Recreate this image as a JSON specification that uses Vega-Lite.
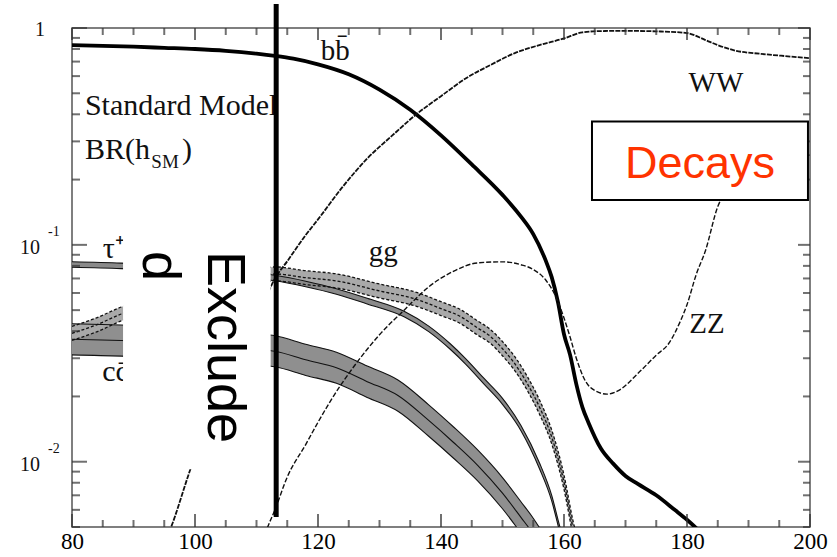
{
  "$schema": "https://vega.github.io/schema/vega-lite/v6.json",
  "width": 738,
  "height": 499,
  "autosize": "none",
  "padding": {"left": 72, "top": 28, "right": 27, "bottom": 30},
  "background": "white",
  "config": {
    "view": {"stroke": "#555", "strokeWidth": 1.5}
  },
  "datasets": {
    "bb": [
      {"m": 80, "v": 0.834}, {"m": 85, "v": 0.828}, {"m": 90, "v": 0.82}, {"m": 95, "v": 0.81},
      {"m": 100, "v": 0.8}, {"m": 105, "v": 0.785}, {"m": 110, "v": 0.762}, {"m": 113, "v": 0.744},
      {"m": 116, "v": 0.722}, {"m": 120, "v": 0.68}, {"m": 125, "v": 0.612}, {"m": 130, "v": 0.52},
      {"m": 135, "v": 0.42}, {"m": 140, "v": 0.32}, {"m": 145, "v": 0.235}, {"m": 150, "v": 0.17},
      {"m": 153, "v": 0.135}, {"m": 155, "v": 0.112}, {"m": 157, "v": 0.085}, {"m": 158, "v": 0.071},
      {"m": 159, "v": 0.0547}, {"m": 160, "v": 0.0387}, {"m": 161, "v": 0.031}, {"m": 162, "v": 0.0228},
      {"m": 163, "v": 0.0178}, {"m": 164, "v": 0.0151}, {"m": 166, "v": 0.0115}, {"m": 168, "v": 0.0098},
      {"m": 170, "v": 0.0086}, {"m": 172, "v": 0.0079}, {"m": 175, "v": 0.007}, {"m": 178, "v": 0.006},
      {"m": 180, "v": 0.0054}, {"m": 182, "v": 0.0048}, {"m": 184, "v": 0.0043}
    ],
    "ww": [
      {"m": 95, "v": 0.0042}, {"m": 96, "v": 0.0049}, {"m": 99, "v": 0.0088}, {"m": 102, "v": 0.0155},
      {"m": 105, "v": 0.025}, {"m": 108, "v": 0.037}, {"m": 111, "v": 0.053}, {"m": 113, "v": 0.07},
      {"m": 115, "v": 0.084}, {"m": 118, "v": 0.111}, {"m": 120, "v": 0.131}, {"m": 124, "v": 0.185},
      {"m": 128, "v": 0.25}, {"m": 132, "v": 0.318}, {"m": 136, "v": 0.4}, {"m": 140, "v": 0.485},
      {"m": 144, "v": 0.585}, {"m": 148, "v": 0.674}, {"m": 152, "v": 0.766}, {"m": 156, "v": 0.834},
      {"m": 160, "v": 0.895}, {"m": 163, "v": 0.955}, {"m": 166, "v": 0.968}, {"m": 170, "v": 0.97},
      {"m": 175, "v": 0.965}, {"m": 180, "v": 0.948}, {"m": 183, "v": 0.88}, {"m": 185, "v": 0.834},
      {"m": 188, "v": 0.785}, {"m": 192, "v": 0.76}, {"m": 196, "v": 0.742}, {"m": 200, "v": 0.726}
    ],
    "zz": [
      {"m": 111, "v": 0.0043}, {"m": 111.7, "v": 0.0049}, {"m": 113, "v": 0.006}, {"m": 115, "v": 0.0085},
      {"m": 118, "v": 0.012}, {"m": 120, "v": 0.0152}, {"m": 122, "v": 0.019}, {"m": 125, "v": 0.0255},
      {"m": 128, "v": 0.033}, {"m": 130, "v": 0.0385}, {"m": 134, "v": 0.05}, {"m": 138, "v": 0.064},
      {"m": 142, "v": 0.0755}, {"m": 146, "v": 0.0826}, {"m": 150, "v": 0.0835}, {"m": 153, "v": 0.081},
      {"m": 155, "v": 0.077}, {"m": 157, "v": 0.069}, {"m": 158.5, "v": 0.059}, {"m": 160, "v": 0.046},
      {"m": 161, "v": 0.0375}, {"m": 162, "v": 0.03}, {"m": 163.5, "v": 0.0235}, {"m": 165, "v": 0.0213},
      {"m": 167, "v": 0.0205}, {"m": 169, "v": 0.0214}, {"m": 172, "v": 0.0255}, {"m": 175, "v": 0.031},
      {"m": 177, "v": 0.035}, {"m": 179, "v": 0.045}, {"m": 180, "v": 0.053}, {"m": 181.5, "v": 0.073},
      {"m": 183, "v": 0.094}, {"m": 185, "v": 0.15}, {"m": 187, "v": 0.185}, {"m": 190, "v": 0.21},
      {"m": 195, "v": 0.24}, {"m": 200, "v": 0.26}
    ],
    "tau": [
      {"m": 80, "lo": 0.0788, "mid": 0.0812, "hi": 0.0836},
      {"m": 88, "lo": 0.0777, "mid": 0.08, "hi": 0.0824},
      {"m": 95, "lo": 0.0757, "mid": 0.078, "hi": 0.0803},
      {"m": 100, "lo": 0.0743, "mid": 0.0765, "hi": 0.0788},
      {"m": 105, "lo": 0.0723, "mid": 0.0745, "hi": 0.0767},
      {"m": 110, "lo": 0.0701, "mid": 0.0722, "hi": 0.0744},
      {"m": 113, "lo": 0.0683, "mid": 0.0703, "hi": 0.0724},
      {"m": 118, "lo": 0.0641, "mid": 0.066, "hi": 0.068},
      {"m": 123, "lo": 0.0592, "mid": 0.061, "hi": 0.0628},
      {"m": 128, "lo": 0.0534, "mid": 0.055, "hi": 0.0567},
      {"m": 134, "lo": 0.0466, "mid": 0.048, "hi": 0.0494},
      {"m": 138, "lo": 0.0398, "mid": 0.041, "hi": 0.0422},
      {"m": 141.5, "lo": 0.033, "mid": 0.034, "hi": 0.035},
      {"m": 144, "lo": 0.0282, "mid": 0.029, "hi": 0.0299},
      {"m": 147, "lo": 0.0228, "mid": 0.0235, "hi": 0.0242},
      {"m": 150, "lo": 0.0184, "mid": 0.019, "hi": 0.0196},
      {"m": 153, "lo": 0.0139, "mid": 0.0143, "hi": 0.0147},
      {"m": 156, "lo": 0.0093, "mid": 0.0096, "hi": 0.0099},
      {"m": 158, "lo": 0.0066, "mid": 0.0068, "hi": 0.007},
      {"m": 159.3, "lo": 0.00476, "mid": 0.0049, "hi": 0.00505},
      {"m": 160, "lo": 0.00408, "mid": 0.0042, "hi": 0.00433}
    ],
    "gg": [
      {"m": 80, "lo": 0.0363, "mid": 0.0391, "hi": 0.0421},
      {"m": 84, "lo": 0.0397, "mid": 0.0428, "hi": 0.0461},
      {"m": 88, "lo": 0.0446, "mid": 0.048, "hi": 0.0517},
      {"m": 95, "lo": 0.0511, "mid": 0.055, "hi": 0.0592},
      {"m": 100, "lo": 0.0566, "mid": 0.061, "hi": 0.0657},
      {"m": 105, "lo": 0.0613, "mid": 0.066, "hi": 0.0711},
      {"m": 110, "lo": 0.0659, "mid": 0.071, "hi": 0.0765},
      {"m": 113, "lo": 0.0682, "mid": 0.0734, "hi": 0.0791},
      {"m": 118, "lo": 0.0656, "mid": 0.0706, "hi": 0.076},
      {"m": 123, "lo": 0.0633, "mid": 0.0682, "hi": 0.0735},
      {"m": 130, "lo": 0.0569, "mid": 0.0613, "hi": 0.066},
      {"m": 136, "lo": 0.0521, "mid": 0.0561, "hi": 0.0604},
      {"m": 140, "lo": 0.0472, "mid": 0.0508, "hi": 0.0547},
      {"m": 143, "lo": 0.0436, "mid": 0.047, "hi": 0.0506},
      {"m": 146, "lo": 0.0383, "mid": 0.0413, "hi": 0.0445},
      {"m": 148, "lo": 0.0352, "mid": 0.0379, "hi": 0.0408},
      {"m": 150, "lo": 0.0308, "mid": 0.0332, "hi": 0.0358},
      {"m": 152, "lo": 0.0263, "mid": 0.0283, "hi": 0.0305},
      {"m": 154, "lo": 0.0214, "mid": 0.023, "hi": 0.0248},
      {"m": 156, "lo": 0.0166, "mid": 0.0179, "hi": 0.0193},
      {"m": 158, "lo": 0.0121, "mid": 0.013, "hi": 0.014},
      {"m": 160, "lo": 0.00747, "mid": 0.00805, "hi": 0.00867},
      {"m": 161.5, "lo": 0.00455, "mid": 0.0049, "hi": 0.00528},
      {"m": 162.5, "lo": 0.00353, "mid": 0.0038, "hi": 0.00409}
    ],
    "cc": [
      {"m": 80, "lo": 0.0311, "mid": 0.0367, "hi": 0.0433},
      {"m": 88, "lo": 0.0307, "mid": 0.0362, "hi": 0.0427},
      {"m": 95, "lo": 0.0301, "mid": 0.0355, "hi": 0.0419},
      {"m": 100, "lo": 0.0295, "mid": 0.0348, "hi": 0.0411},
      {"m": 105, "lo": 0.0288, "mid": 0.034, "hi": 0.0401},
      {"m": 110, "lo": 0.028, "mid": 0.033, "hi": 0.0389},
      {"m": 113, "lo": 0.0274, "mid": 0.0323, "hi": 0.0381},
      {"m": 118, "lo": 0.025, "mid": 0.0295, "hi": 0.0348},
      {"m": 123, "lo": 0.023, "mid": 0.0271, "hi": 0.032},
      {"m": 128, "lo": 0.0198, "mid": 0.0234, "hi": 0.0276},
      {"m": 133, "lo": 0.0171, "mid": 0.0202, "hi": 0.0238},
      {"m": 138, "lo": 0.0131, "mid": 0.0155, "hi": 0.0183},
      {"m": 142, "lo": 0.0104, "mid": 0.0123, "hi": 0.0145},
      {"m": 146, "lo": 0.00814, "mid": 0.0096, "hi": 0.0113},
      {"m": 150, "lo": 0.00607, "mid": 0.00716, "hi": 0.00845},
      {"m": 153, "lo": 0.00469, "mid": 0.00554, "hi": 0.00654},
      {"m": 155, "lo": 0.00394, "mid": 0.00465, "hi": 0.00549},
      {"m": 157, "lo": 0.00322, "mid": 0.0038, "hi": 0.00448}
    ],
    "xMajor": [{"m": 80}, {"m": 100}, {"m": 120}, {"m": 140}, {"m": 160}, {"m": 180}, {"m": 200}],
    "xMinor": [
      {"m": 85}, {"m": 90}, {"m": 95}, {"m": 105}, {"m": 110}, {"m": 115}, {"m": 125}, {"m": 130}, {"m": 135},
      {"m": 145}, {"m": 150}, {"m": 155}, {"m": 165}, {"m": 170}, {"m": 175}, {"m": 185}, {"m": 190}, {"m": 195}
    ],
    "yMajor": [{"v": 0.01}, {"v": 0.1}, {"v": 1}],
    "yMinor": [
      {"v": 0.005}, {"v": 0.006}, {"v": 0.007}, {"v": 0.008}, {"v": 0.009},
      {"v": 0.02}, {"v": 0.03}, {"v": 0.04}, {"v": 0.05}, {"v": 0.06}, {"v": 0.07}, {"v": 0.08}, {"v": 0.09},
      {"v": 0.2}, {"v": 0.3}, {"v": 0.4}, {"v": 0.5}, {"v": 0.6}, {"v": 0.7}, {"v": 0.8}, {"v": 0.9}
    ],
    "labelsLeft": [
      {"m": 82.1, "v": 0.396, "t": "Standard Model"},
      {"m": 82.1, "v": 0.25, "t": "BR(h"},
      {"m": 97.9, "v": 0.25, "t": ")"},
      {"m": 85.0, "v": 0.0871, "t": "τ⁺τ⁻"},
      {"m": 84.9, "v": 0.0235, "t": "cc̄"}
    ],
    "labelsSub": [{"m": 92.9, "v": 0.227, "t": "SM"}],
    "labelsMid": [
      {"m": 122.8, "v": 0.711, "t": "bb̄"},
      {"m": 130.6, "v": 0.0843, "t": "gg"},
      {"m": 184.7, "v": 0.505, "t": "WW"},
      {"m": 183.25, "v": 0.0391, "t": "ZZ"}
    ],
    "excluded": [{"m0": 88.3, "m1": 112.3, "v0": 0.1225, "v1": 0.00923, "m": 102.1, "v": 0.0938}],
    "cut": [{"m": 113.2, "v0": 1.29, "v1": 0.00556}],
    "decays": [{"m0": 164.55, "m1": 199.67, "v0": 0.371, "v1": 0.161, "m": 182.1, "v": 0.237, "t": "Decays"}],
    "yOne": [{"m": 80, "v": 1, "t": "1"}],
    "yBase": [{"m": 80, "v": 0.1, "t": "10"}, {"m": 80, "v": 0.01, "t": "10"}],
    "ySup": [{"m": 80, "v": 0.1, "t": "-1"}, {"m": 80, "v": 0.01, "t": "-2"}]
  },
  "layer": [
    {
      "data": {"name": "cc"},
      "mark": {"type": "area", "fill": "#8f8f8f", "interpolate": "monotone", "clip": true},
      "encoding": {
        "x": {"field": "m", "type": "quantitative", "scale": {"domain": [80, 200], "nice": false, "zero": false},
              "axis": {"orient": "bottom", "title": null, "values": [80, 100, 120, 140, 160, 180, 200], "domain": false, "grid": false,
                       "ticks": false, "tickSize": 0, "labelPadding": 3, "labelFont": "Liberation Serif", "labelFontSize": 23,
                       "labelColor": "#000", "labelFlush": false, "labelOverlap": false}},
        "y": {"field": "lo", "type": "quantitative", "scale": {"type": "log", "domain": [0.005, 1], "nice": false}, "axis": null},
        "y2": {"field": "hi"}
      }
    },
    {
      "data": {"name": "gg"},
      "mark": {"type": "area", "fill": "#a9a9a9", "interpolate": "monotone", "clip": true},
      "encoding": {
        "x": {"field": "m", "type": "quantitative"},
        "y": {"field": "lo", "type": "quantitative"},
        "y2": {"field": "hi"}
      }
    },
    {
      "data": {"name": "tau"},
      "mark": {"type": "area", "fill": "#8a8a8a", "interpolate": "monotone", "clip": true},
      "encoding": {
        "x": {"field": "m", "type": "quantitative"},
        "y": {"field": "lo", "type": "quantitative"},
        "y2": {"field": "hi"}
      }
    },
    {
      "data": {"name": "cc"},
      "transform": [{"fold": ["lo", "mid", "hi"], "as": ["edge", "value"]}],
      "mark": {"type": "line", "color": "#111", "strokeWidth": 1.1, "interpolate": "monotone", "clip": true},
      "encoding": {
        "x": {"field": "m", "type": "quantitative"},
        "y": {"field": "value", "type": "quantitative"},
        "detail": {"field": "edge"}
      }
    },
    {
      "data": {"name": "gg"},
      "transform": [{"fold": ["lo", "mid", "hi"], "as": ["edge", "value"]}],
      "mark": {"type": "line", "color": "#111", "strokeWidth": 1.3, "strokeDash": [3, 2], "interpolate": "monotone", "clip": true},
      "encoding": {
        "x": {"field": "m", "type": "quantitative"},
        "y": {"field": "value", "type": "quantitative"},
        "detail": {"field": "edge"}
      }
    },
    {
      "data": {"name": "tau"},
      "transform": [{"fold": ["lo", "hi"], "as": ["edge", "value"]}],
      "mark": {"type": "line", "color": "#111", "strokeWidth": 1.1, "interpolate": "monotone", "clip": true},
      "encoding": {
        "x": {"field": "m", "type": "quantitative"},
        "y": {"field": "value", "type": "quantitative"},
        "detail": {"field": "edge"}
      }
    },
    {
      "data": {"name": "bb"},
      "mark": {"type": "line", "color": "#000", "strokeWidth": 3.8, "interpolate": "monotone", "clip": true},
      "encoding": {
        "x": {"field": "m", "type": "quantitative"},
        "y": {"field": "v", "type": "quantitative"}
      }
    },
    {
      "data": {"name": "ww"},
      "mark": {"type": "line", "color": "#111", "strokeWidth": 1.8, "strokeDash": [5, 1.2], "interpolate": "monotone", "clip": true},
      "encoding": {
        "x": {"field": "m", "type": "quantitative"},
        "y": {"field": "v", "type": "quantitative"}
      }
    },
    {
      "data": {"name": "zz"},
      "mark": {"type": "line", "color": "#111", "strokeWidth": 1.4, "strokeDash": [5, 2], "interpolate": "monotone", "clip": true},
      "encoding": {
        "x": {"field": "m", "type": "quantitative"},
        "y": {"field": "v", "type": "quantitative"}
      }
    },
    {
      "data": {"name": "xMajor"},
      "mark": {"type": "tick", "orient": "vertical", "color": "#333", "thickness": 2, "size": 13},
      "encoding": {
        "x": {"field": "m", "type": "quantitative"},
        "y": {"datum": 0.005357, "type": "quantitative"}
      }
    },
    {
      "data": {"name": "xMajor"},
      "mark": {"type": "tick", "orient": "vertical", "color": "#333", "thickness": 2, "size": 12},
      "encoding": {
        "x": {"field": "m", "type": "quantitative"},
        "y": {"datum": 0.9383, "type": "quantitative"}
      }
    },
    {
      "data": {"name": "xMinor"},
      "mark": {"type": "tick", "orient": "vertical", "color": "#333", "thickness": 2, "size": 7},
      "encoding": {
        "x": {"field": "m", "type": "quantitative"},
        "y": {"datum": 0.00519, "type": "quantitative"}
      }
    },
    {
      "data": {"name": "xMinor"},
      "mark": {"type": "tick", "orient": "vertical", "color": "#333", "thickness": 2, "size": 7},
      "encoding": {
        "x": {"field": "m", "type": "quantitative"},
        "y": {"datum": 0.9635, "type": "quantitative"}
      }
    },
    {
      "data": {"name": "yMajor"},
      "mark": {"type": "tick", "orient": "horizontal", "color": "#333", "thickness": 2, "size": 15},
      "encoding": {
        "y": {"field": "v", "type": "quantitative"},
        "x": {"datum": 81.22, "type": "quantitative"}
      }
    },
    {
      "data": {"name": "yMajor"},
      "mark": {"type": "tick", "orient": "horizontal", "color": "#333", "thickness": 2, "size": 12},
      "encoding": {
        "y": {"field": "v", "type": "quantitative"},
        "x": {"datum": 199.02, "type": "quantitative"}
      }
    },
    {
      "data": {"name": "yMinor"},
      "mark": {"type": "tick", "orient": "horizontal", "color": "#333", "thickness": 2, "size": 8},
      "encoding": {
        "y": {"field": "v", "type": "quantitative"},
        "x": {"datum": 80.65, "type": "quantitative"}
      }
    },
    {
      "data": {"name": "yMinor"},
      "mark": {"type": "tick", "orient": "horizontal", "color": "#333", "thickness": 2, "size": 7},
      "encoding": {
        "y": {"field": "v", "type": "quantitative"},
        "x": {"datum": 199.43, "type": "quantitative"}
      }
    },
    {
      "data": {"name": "labelsLeft"},
      "mark": {"type": "text", "font": "Liberation Serif", "fontSize": 30, "align": "left", "baseline": "alphabetic", "color": "#111"},
      "encoding": {
        "x": {"field": "m", "type": "quantitative"},
        "y": {"field": "v", "type": "quantitative"},
        "text": {"field": "t"}
      }
    },
    {
      "data": {"name": "labelsSub"},
      "mark": {"type": "text", "font": "Liberation Serif", "fontSize": 19, "align": "left", "baseline": "alphabetic", "color": "#111"},
      "encoding": {
        "x": {"field": "m", "type": "quantitative"},
        "y": {"field": "v", "type": "quantitative"},
        "text": {"field": "t"}
      }
    },
    {
      "data": {"name": "labelsMid"},
      "mark": {"type": "text", "font": "Liberation Serif", "fontSize": 29, "align": "center", "baseline": "alphabetic", "color": "#111"},
      "encoding": {
        "x": {"field": "m", "type": "quantitative"},
        "y": {"field": "v", "type": "quantitative"},
        "text": {"field": "t"}
      }
    },
    {
      "data": {"name": "excluded"},
      "mark": {"type": "rect", "fill": "white", "stroke": null},
      "encoding": {
        "x": {"field": "m0", "type": "quantitative"},
        "x2": {"field": "m1"},
        "y": {"field": "v0", "type": "quantitative"},
        "y2": {"field": "v1"}
      }
    },
    {
      "data": {"name": "excluded"},
      "mark": {"type": "text", "text": ["Exclude", "d"], "font": "Liberation Sans", "fontSize": 54, "angle": 90,
               "align": "left", "baseline": "alphabetic", "lineHeight": 65, "color": "#000"},
      "encoding": {
        "x": {"field": "m", "type": "quantitative"},
        "y": {"field": "v", "type": "quantitative"}
      }
    },
    {
      "data": {"name": "cut"},
      "mark": {"type": "rule", "color": "#000", "strokeWidth": 5},
      "encoding": {
        "x": {"field": "m", "type": "quantitative"},
        "y": {"field": "v0", "type": "quantitative"},
        "y2": {"field": "v1"}
      }
    },
    {
      "data": {"name": "decays"},
      "mark": {"type": "rect", "fill": "white", "stroke": "#000", "strokeWidth": 2},
      "encoding": {
        "x": {"field": "m0", "type": "quantitative"},
        "x2": {"field": "m1"},
        "y": {"field": "v0", "type": "quantitative"},
        "y2": {"field": "v1"}
      }
    },
    {
      "data": {"name": "decays"},
      "mark": {"type": "text", "font": "Liberation Sans", "fontSize": 45, "align": "center", "baseline": "middle", "color": "#ff3300"},
      "encoding": {
        "x": {"field": "m", "type": "quantitative"},
        "y": {"field": "v", "type": "quantitative"},
        "text": {"field": "t"}
      }
    },
    {
      "data": {"name": "yOne"},
      "mark": {"type": "text", "font": "Liberation Serif", "fontSize": 20, "align": "right", "baseline": "middle", "dx": -27, "dy": 2, "color": "#111"},
      "encoding": {
        "x": {"field": "m", "type": "quantitative"},
        "y": {"field": "v", "type": "quantitative"},
        "text": {"field": "t"}
      }
    },
    {
      "data": {"name": "yBase"},
      "mark": {"type": "text", "font": "Liberation Serif", "fontSize": 20, "align": "right", "baseline": "middle", "dx": -32, "dy": 3, "color": "#111"},
      "encoding": {
        "x": {"field": "m", "type": "quantitative"},
        "y": {"field": "v", "type": "quantitative"},
        "text": {"field": "t"}
      }
    },
    {
      "data": {"name": "ySup"},
      "mark": {"type": "text", "font": "Liberation Serif", "fontSize": 14, "align": "left", "baseline": "middle", "dx": -24, "dy": -13, "color": "#111"},
      "encoding": {
        "x": {"field": "m", "type": "quantitative"},
        "y": {"field": "v", "type": "quantitative"},
        "text": {"field": "t"}
      }
    }
  ]
}
